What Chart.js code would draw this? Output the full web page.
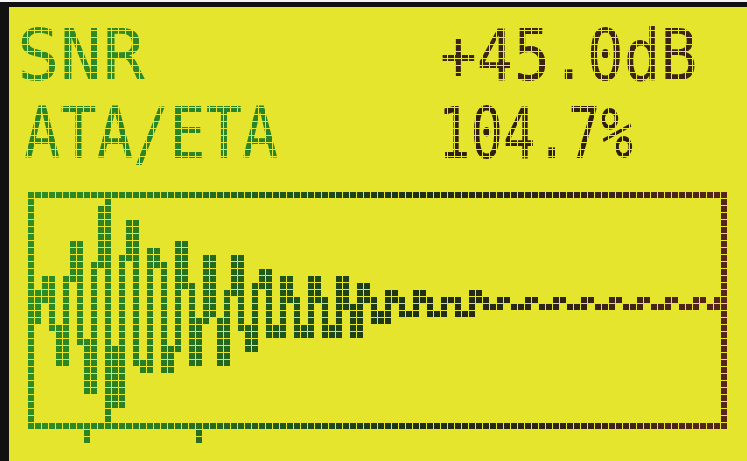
<!DOCTYPE html>
<html>
<head>
<meta charset="utf-8">
<script src="https://cdn.jsdelivr.net/npm/chart.js@4.4.1/dist/chart.umd.min.js"></script>
<style>
  html, body { margin: 0; padding: 0; background: #ffffff; }
  #lcd { position: relative; width: 747px; height: 461px; overflow: hidden; background: #e4e52c; }
  #edgeTop { position: absolute; left: 0; top: 2px; width: 747px; height: 5px; background: #111111; }
  #edgeWhite { position: absolute; left: 0; top: 0; width: 747px; height: 2px; background: #f4f4f4; }
  #edgeLeft { position: absolute; left: 0; top: 2px; width: 9px; height: 459px; background: #111111; }
  #c { position: absolute; left: 0; top: 0; }
  .t { position: absolute; font-family: "DejaVu Sans Mono", monospace; font-size: 71px; line-height: 71px;
       white-space: nowrap; transform-origin: 0 0; }
  #tgrid { position: absolute; left: 9px; top: 7px; width: 738px; height: 178px; pointer-events: none;
    background-image:
      repeating-linear-gradient(90deg, rgba(0,0,0,0) 0px, rgba(0,0,0,0) 6px, #e4e52c 6px, #e4e52c 7px),
      repeating-linear-gradient(180deg, rgba(0,0,0,0) 0px, rgba(0,0,0,0) 6px, #e4e52c 6px, #e4e52c 7px);
    background-position: 5px 3px, 5px 3px; }
</style>
</head>
<body>
<div id="lcd">
  <canvas id="c" width="747" height="461"></canvas>
  <div class="t" id="l0" style="left:17px;top:20px;color:#2f8a26;"></div>
  <div class="t" id="l1" style="left:24px;top:98px;color:#2c8524;transform:scaleX(0.85);"></div>
  <div class="t" id="r0" style="left:440px;top:20px;color:#3a2414;transform:scaleX(0.86);"></div>
  <div class="t" id="r1" style="left:438px;top:98px;color:#2e1f10;transform:scaleX(0.76);"></div>
  <div id="tgrid"></div>
  <div id="edgeWhite"></div>
  <div id="edgeTop"></div>
  <div id="edgeLeft"></div>
</div>
<script>
// ---- readout text ----
const readoutLabels = ['SNR', 'ATA/ETA'];
const readoutValues = ['+45.0dB', '104.7%'];

// ---- waveform: LCD column index and the lit range (low..high level) in each column ----
const columns = [1,2,3,4,5,6,7,8,9,10,11,12,13,14,15,16,17,18,19,20,
  21,22,23,24,25,26,27,28,29,30,31,32,33,34,35,36,37,38,39,40,
  41,42,43,44,45,46,47,48,49,50,51,52,53,54,55,56,57,58,59,60,
  61,62,63,64,65,66,67,68,69,70,71,72,73,74,75,76,77,78,79,80,
  81,82,83,84,85,86,87,88,89,90,91,92,93,94,95,96,97,98];
const waveLow = [15,18,14,9,9,21,12,5,5,23,11,3,3,24,9,8,8,23,8,8,
  11,20,9,9,15,16,9,9,19,14,11,11,20,13,13,13,18,13,13,13,
  18,13,13,13,17,13,13,18,15,15,15,18,16,16,16,18,16,16,16,18,
  16,16,16,18,17,17,17,18,17,17,17,18,17,17,17,18,17,17,17,18,
  17,17,17,18,17,17,17,18,17,17,17,18,17,17,17,18,17,17];
const waveHigh = [19,21,21,14,21,26,26,12,23,31,31,11,24,29,29,9,25,25,23,11,
  26,26,20,15,24,24,15,19,24,24,14,20,22,22,14,21,21,18,14,21,
  21,18,14,21,21,17,20,20,18,16,19,19,18,16,19,19,18,16,18,18,
  18,16,19,19,18,17,18,18,17,17,18,18,17,17,18,18,17,17,18,18,
  17,17,18,18,17,17,18,18,17,17,18,18,17,17,18,18,17,18];

// ---- cursor line and the two index marks under the frame ----
const cursorColumns = [11];
const cursorLow = [1];
const cursorHigh = [32];
const markerColumns = [8, 24];
const markerLow = [-2, -2];
const markerHigh = [-1, -1];

// ---- axis ranges (LCD cells) ----
const xRange = [0, 99];
const yRange = [0, 33];

document.getElementById('l0').textContent = readoutLabels[0];
document.getElementById('l1').textContent = readoutLabels[1];
document.getElementById('r0').textContent = readoutValues[0];
document.getElementById('r1').textContent = readoutValues[1];

const canvas = document.getElementById('c');
const cctx = canvas.getContext('2d');

function lcdPattern() {
  const tile = document.createElement('canvas');
  tile.width = 749; tile.height = 7;
  const t = tile.getContext('2d');
  const g = t.createLinearGradient(0, 0, 747, 0);
  g.addColorStop(0.00, '#2f9126');
  g.addColorStop(0.20, '#2a7d22');
  g.addColorStop(0.40, '#1e521a');
  g.addColorStop(0.56, '#1d2f15');
  g.addColorStop(0.75, '#2f2315');
  g.addColorStop(1.00, '#5e2619');
  t.fillStyle = g;
  t.fillRect(0, 0, 749, 7);
  for (let x = 6; x < 749; x += 7) t.clearRect(x, 0, 1, 7);
  t.clearRect(0, 6, 749, 1);
  const p = cctx.createPattern(tile, 'repeat');
  p.setTransform(new DOMMatrix([1, 0, 0, 1, 0, 3]));
  return p;
}
const pix = lcdPattern();

const cell = (lo, hi) => [lo - 0.5, hi + 0.5];
const barStyle = {
  backgroundColor: pix, borderWidth: 0, grouped: false, inflateAmount: 0,
  categoryPercentage: 1, barPercentage: 1
};
const frameAxis = (pos, range) => ({
  type: 'linear', position: pos, display: true, min: range[0], max: range[1],
  offset: false, bounds: 'data',
  ticks: { display: false },
  grid: { display: false, drawTicks: false, lineWidth: 7, offset: false },
  border: { display: true, width: 7, color: pix }
});

new Chart(canvas, {
  type: 'bar',
  data: {
    datasets: [
      Object.assign({ label: 'Waveform',
        data: columns.map((c, i) => ({ x: c, y: cell(waveLow[i], waveHigh[i]) })) }, barStyle),
      Object.assign({ label: 'Cursor',
        data: cursorColumns.map((c, i) => ({ x: c, y: cell(cursorLow[i], cursorHigh[i]) })) }, barStyle),
      Object.assign({ label: 'Marks', clip: false,
        data: markerColumns.map((c, i) => ({ x: c, y: cell(markerLow[i], markerHigh[i]) })) }, barStyle)
    ]
  },
  options: {
    responsive: false,
    devicePixelRatio: 1,
    animation: false,
    events: [],
    layout: { padding: { left: 31.5, right: 22.5, top: 195.5, bottom: 34.5 } },
    plugins: { legend: { display: false }, tooltip: { enabled: false }, title: { display: false } },
    scales: {
      x: frameAxis('bottom', xRange),
      x2: frameAxis('top', xRange),
      y: frameAxis('left', yRange),
      y2: frameAxis('right', yRange)
    }
  }
});
</script>
</body>
</html>
